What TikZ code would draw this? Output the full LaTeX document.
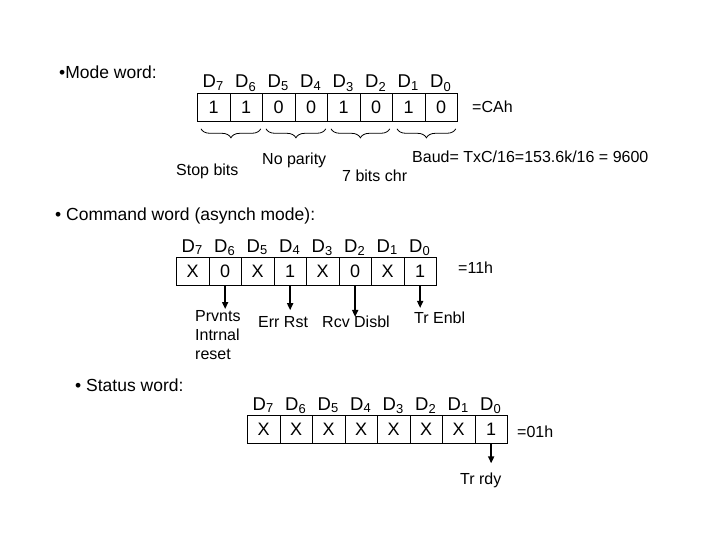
\documentclass[tikz,border=0pt]{standalone}
\usepackage{fontspec}
\setmainfont{Liberation Sans}
\usetikzlibrary{arrows.meta,positioning,decorations.pathreplacing}

\begin{document}
\begin{tikzpicture}[
  x=1pt,
  y=-1pt,
  font=\fontsize{16}{19}\selectfont,
  >={Triangle[length=7pt,width=6pt]},
  bit/.style={draw, line width=0.8pt, minimum width=32.5pt, minimum height=28pt,
    inner sep=0pt, anchor=north west, font=\fontsize{18}{20}\selectfont},
  dlab/.style={anchor=base, inner sep=0pt, font=\fontsize{18.5}{20}\selectfont},
  head/.style={anchor=west, inner sep=1pt, font=\fontsize{17.5}{20}\selectfont},
  note/.style={anchor=west, inner sep=1pt},
  flag/.style={->, line width=1.6pt},
  grp/.style={decorate, decoration={brace, mirror, amplitude=9pt}, line width=0.8pt}
]

\path (0,0) rectangle (720,540);

% mode word
\node[head] (mode) at (58,72) {•Mode word:};
\foreach \v [count=\i from 0, evaluate=\i as \b using int(7-\i)] in {1,1,0,0,1,0,1,0} {
  \node[bit] (m\b) at ({197+32.5*\i},93) {\v};
  \node[dlab] (md\b) at ({213.25+32.5*\i},88) {D\textsubscript{\b}};
}
\node[note] (cah) at (471,107) {=CAh};

\draw[grp] ([xshift=4pt,yshift=-7pt]m7.south west) -- ([xshift=-2pt,yshift=-7pt]m6.south east);
\draw[grp] ([xshift=4pt,yshift=-7pt]m5.south west) -- ([xshift=-2pt,yshift=-7pt]m4.south east);
\draw[grp] ([xshift=4pt,yshift=-7pt]m3.south west) -- ([xshift=-3pt,yshift=-7pt]m2.south east);
\draw[grp] ([xshift=5pt,yshift=-7pt]m1.south west) -- ([xshift=-2pt,yshift=-7pt]m0.south east);

\node[note] (stop) at (175,171) {Stop bits};
\node[note] (par) at (261,160) {No parity};
\node[note] (chr) at (341,176) {7 bits chr};
\node[note] (baud) at (411,157) {Baud= TxC/16=153.6k/16 = 9600};

% command word
\node[head] (cmd) at (54,216) {• Command word (asynch mode):};
\foreach \v [count=\i from 0, evaluate=\i as \b using int(7-\i)] in {X,0,X,1,X,0,X,1} {
  \node[bit] (c\b) at ({176+32.5*\i},257) {\v};
  \node[dlab] (cd\b) at ({192.25+32.5*\i},252) {D\textsubscript{\b}};
}
\node[note] (h11) at (457,268) {=11h};

\node[note, align=left, anchor=north west] (prv) at (194,309) {Prvnts\\Intrnal\\reset};
\node[note] (err) at (257,322) {Err Rst};
\node[note] (rcv) at (321,322) {Rcv Disbl};
\node[note] (enb) at (413,318) {Tr Enbl};

\draw[flag] (c6.south) -- (c6.south |- prv.north);
\draw[flag, shorten >=5pt] (c4.south) -- (c4.south |- err.north);
\draw[flag, shorten >=-2pt] (c2.south) -- (c2.south |- rcv.north);
\draw[flag, shorten >=3pt] (c0.south) -- (c0.south |- enb.north);

% status word
\node[head] (stat) at (74,385) {• Status word:};
\foreach \v [count=\i from 0, evaluate=\i as \b using int(7-\i)] in {X,X,X,X,X,X,X,1} {
  \node[bit] (s\b) at ({247+32.5*\i},415) {\v};
  \node[dlab] (sd\b) at ({263.25+32.5*\i},410) {D\textsubscript{\b}};
}
\node[note] (h01) at (516,432) {=01h};
\node[note] (rdy) at (459,480) {Tr rdy};

\draw[flag, shorten >=8pt] (s0.south) -- (s0.south |- rdy.north);

\end{tikzpicture}
\end{document}
